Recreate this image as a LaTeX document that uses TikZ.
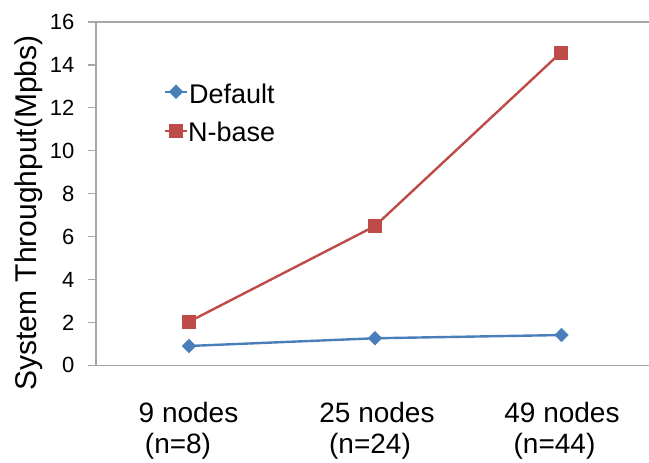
\documentclass[tikz,border=0pt]{standalone}
\usepackage{fontspec}
\setmainfont{Liberation Sans}
\usetikzlibrary{shapes.geometric}
\definecolor{seriesblue}{HTML}{4A7EBB}
\definecolor{seriesred}{HTML}{BE4B48}
\definecolor{axisgray}{HTML}{A6A6A6}
\tikzset{
  axisline/.style={draw=axisgray, line width=1.4pt},
  bluemark/.style={diamond, fill=seriesblue, draw=seriesblue, inner sep=0pt, minimum size=14pt},
  redmark/.style={rectangle, fill=seriesred, draw=seriesred, inner sep=0pt, minimum size=13pt},
  blueline/.style={draw=seriesblue, line width=2.4pt},
  redline/.style={draw=seriesred, line width=2.4pt},
  ticklabel/.style={anchor=east, inner sep=0pt, font=\fontsize{22}{22}\selectfont},
  catlabel/.style={anchor=base, inner sep=0pt, font=\fontsize{28}{28}\selectfont},
  legendtext/.style={anchor=base west, inner sep=0pt, font=\fontsize{27}{27}\selectfont}
}
% value -> vertical position (y axis runs downward)
\newcommand{\valy}[1]{365.3-21.46*#1}
\begin{document}
\begin{tikzpicture}[x=1pt, y=-1pt]
\useasboundingbox (0,0) rectangle (649,463);

% axes and frame lines
\coordinate (axtop) at (96,22);
\coordinate (axbot) at (96,365.3);
\coordinate (toprt) at (649,22);
\coordinate (botrt) at (649,365.3);
\coordinate (toplf) at (88,22);
\coordinate (botlf) at (88,365.3);
\draw[axisline] (axtop) -- (axbot);
\draw[axisline] (toplf) -- (toprt);
\draw[axisline] (botlf) -- (botrt);
\foreach \v in {2,4,...,14} {
  \draw[axisline] (88,{\valy{\v}}) -- (96,{\valy{\v}});
}
\foreach \v in {0,2,...,16} {
  \node[ticklabel] (tick\v) at (74.5,{\valy{\v}}) {\v};
}

% y axis title
\node[rotate=90, anchor=base, inner sep=0pt, font=\fontsize{30}{30}\selectfont]
  (ytitle) at (36,213) {System Throughput(Mpbs)};

% category labels
\node[catlabel] (c1a) at (188.5,422) {9 nodes};
\node[catlabel] (c1b) at (178,453.5) {(n=8)};
\node[catlabel] (c2a) at (377,422) {25 nodes};
\node[catlabel] (c2b) at (370,453.5) {(n=24)};
\node[catlabel] (c3a) at (562,422) {49 nodes};
\node[catlabel] (c3b) at (554.5,453.5) {(n=44)};

% data series
\coordinate (b1) at (189,{\valy{0.9}});
\coordinate (b2) at (375,{\valy{1.26}});
\coordinate (b3) at (561.5,{\valy{1.41}});
\coordinate (r1) at (189,{\valy{2.03}});
\coordinate (r2) at (375,{\valy{6.49}});
\coordinate (r3) at (561,{\valy{14.58}});
\draw[blueline] (b1) -- (b2) -- (b3);
\draw[redline] (r1) -- (r2) -- (r3);
\foreach \p in {b1,b2,b3} { \node[bluemark] (m\p) at (\p) {}; }
\foreach \p in {r1,r2,r3} { \node[redmark] (m\p) at (\p) {}; }

% legend
\coordinate (lbA) at (165,91.7);
\coordinate (lbB) at (187,91.7);
\coordinate (lrA) at (165,130.7);
\coordinate (lrB) at (187,130.7);
\draw[blueline] (lbA) -- (lbB);
\draw[redline] (lrA) -- (lrB);
\node[bluemark] (lgb) at (176,91.7) {};
\node[redmark] (lgr) at (176,130.7) {};
\node[legendtext] (lgtb) at (189,103.3) {Default};
\node[legendtext] (lgtr) at (188,141.7) {N-base};
\end{tikzpicture}
\end{document}
